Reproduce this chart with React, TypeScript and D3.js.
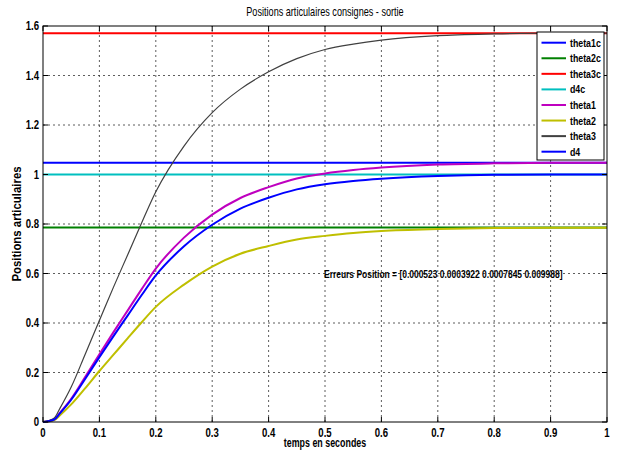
import React from 'react';
import * as d3 from 'd3';

// time samples (s)
const times = [0, 0.02, 0.03, 0.05, 0.075, 0.1, 0.125, 0.15, 0.175, 0.2, 0.25, 0.3, 0.35, 0.4, 0.45, 0.5, 0.55, 0.6, 0.7, 0.8, 0.9, 1.0];

const theta1 = [0, 0.01, 0.037, 0.094, 0.183, 0.274, 0.363, 0.45, 0.537, 0.62, 0.745, 0.838, 0.905, 0.949, 0.984, 1.004, 1.018, 1.028, 1.04, 1.045, 1.047, 1.047];
const theta2 = [0, 0.008, 0.027, 0.071, 0.137, 0.206, 0.272, 0.338, 0.403, 0.465, 0.555, 0.628, 0.68, 0.711, 0.737, 0.752, 0.764, 0.772, 0.78, 0.784, 0.785, 0.785];
const theta3 = [0, 0.016, 0.055, 0.141, 0.275, 0.41, 0.545, 0.675, 0.805, 0.93, 1.115, 1.25, 1.345, 1.415, 1.468, 1.505, 1.527, 1.543, 1.561, 1.568, 1.571, 1.571];
const d4 = [0, 0.01, 0.035, 0.09, 0.175, 0.262, 0.347, 0.43, 0.513, 0.592, 0.71, 0.797, 0.862, 0.906, 0.94, 0.961, 0.974, 0.983, 0.994, 0.999, 1.0, 1.0];

// consignes
const theta1c = 1.0472;
const theta2c = 0.7854;
const theta3c = 1.5708;
const d4c = 1.0;

const xTicks = [0, 0.1, 0.2, 0.3, 0.4, 0.5, 0.6, 0.7, 0.8, 0.9, 1];
const yTicks = [0, 0.2, 0.4, 0.6, 0.8, 1, 1.2, 1.4, 1.6];

const legendNames = ['theta1c', 'theta2c', 'theta3c', 'd4c', 'theta1', 'theta2', 'theta3', 'd4'];
const colors = ['#0000ff', '#008000', '#ff0000', '#00bfbf', '#bf00bf', '#bfbf00', '#404040', '#0000ff'];

const errText = 'Erreurs Position = [0.000523 0.0003922 0.0007845 0.009988]';

const W = 617;
const H = 454;
const margin = { top: 26, right: 10, bottom: 32, left: 43 };
const font = '"Liberation Sans", Arial, sans-serif';

// narrow text (Arial Narrow look-alike)
const NText = ({ x, y, anchor = 'start', bold = true, size = 11, sx = 0.8, rot = 0, children }: any) => (
  <text transform={`translate(${x},${y}) rotate(${rot}) scale(${sx},1)`} textAnchor={anchor}
    fontSize={size} fontWeight={bold ? 'bold' : 'normal'}>{children}</text>
);

export default function App() {
  const x = d3.scaleLinear().domain([0, 1]).range([margin.left, W - margin.right]);
  const y = d3.scaleLinear().domain([0, 1.6]).range([H - margin.bottom, margin.top]);

  const line = d3.line<number>()
    .x((d, i) => x(times[i]))
    .y(d => y(d))
    .curve(d3.curveMonotoneX);

  const consignes = [theta1c, theta2c, theta3c, d4c];
  const curves = [theta1, theta2, theta3, d4];
  const fmt = d3.format('~g');

  const x0 = x(0), x1 = x(1), y0 = y(0), y1 = y(1.6);

  return (
    <svg width={W} height={H} style={{ position: 'absolute', left: 0, top: 0, background: '#fff' }} fontFamily={font}>
      <rect x={0} y={0} width={W} height={H} fill="#fff" />
      {/* grid */}
      {xTicks.slice(1, -1).map(t => (
        <line key={'gx' + t} x1={x(t)} x2={x(t)} y1={y0} y2={y1} stroke="#333" strokeWidth={0.8} strokeDasharray="2,3" />
      ))}
      {yTicks.slice(1, -1).map(t => (
        <line key={'gy' + t} x1={x0} x2={x1} y1={y(t)} y2={y(t)} stroke="#333" strokeWidth={0.8} strokeDasharray="2,3" />
      ))}
      {/* consignes */}
      {consignes.map((v, i) => (
        <line key={'c' + i} x1={x0} x2={x1} y1={y(v)} y2={y(v)} stroke={colors[i]} strokeWidth={2} />
      ))}
      {/* responses */}
      {curves.map((c, i) => (
        <path key={'r' + i} d={line(c) || ''} fill="none" stroke={colors[4 + i]}
          strokeWidth={i === 2 ? 1.2 : 2} strokeLinejoin="round" />
      ))}
      {/* axes box */}
      <rect x={x0} y={y1} width={x1 - x0} height={y0 - y1} fill="none" stroke="#000" strokeWidth={1} />
      {xTicks.map(t => (
        <g key={'tx' + t}>
          <line x1={x(t)} x2={x(t)} y1={y0} y2={y0 - 5} stroke="#000" />
          <line x1={x(t)} x2={x(t)} y1={y1} y2={y1 + 5} stroke="#000" />
          <NText x={x(t)} y={y0 + 15} anchor="middle" size={12}>{fmt(t)}</NText>
        </g>
      ))}
      {yTicks.map(t => (
        <g key={'ty' + t}>
          <line x1={x0} x2={x0 + 5} y1={y(t)} y2={y(t)} stroke="#000" />
          <line x1={x1} x2={x1 - 5} y1={y(t)} y2={y(t)} stroke="#000" />
          <NText x={x0 - 4} y={y(t) + 4} anchor="end" size={12}>{fmt(t)}</NText>
        </g>
      ))}
      {/* annotation */}
      <NText x={x(0.5) - 1} y={y(0.6) + 4} sx={0.77}>{errText}</NText>
      {/* labels */}
      <NText x={(x0 + x1) / 2} y={16} anchor="middle" bold={false} size={12} sx={0.76}>Positions articulaires consignes - sortie</NText>
      <NText x={(x0 + x1) / 2} y={447} anchor="middle" size={12} sx={0.74}>temps en secondes</NText>
      <NText x={21} y={(y0 + y1) / 2} anchor="middle" rot={-90} size={12} sx={0.95}>Positions articulaires</NText>
      {/* legend */}
      <g transform="translate(537,32)">
        <rect x={0} y={0} width={67} height={128} fill="#fff" stroke="#000" strokeWidth={1} />
        {legendNames.map((n, i) => (
          <g key={n}>
            <line x1={4.5} x2={29} y1={10.7 + i * 15.57} y2={10.7 + i * 15.57} stroke={colors[i]} strokeWidth={2} />
            <NText x={33} y={14.7 + i * 15.57}>{n}</NText>
          </g>
        ))}
      </g>
    </svg>
  );
}
